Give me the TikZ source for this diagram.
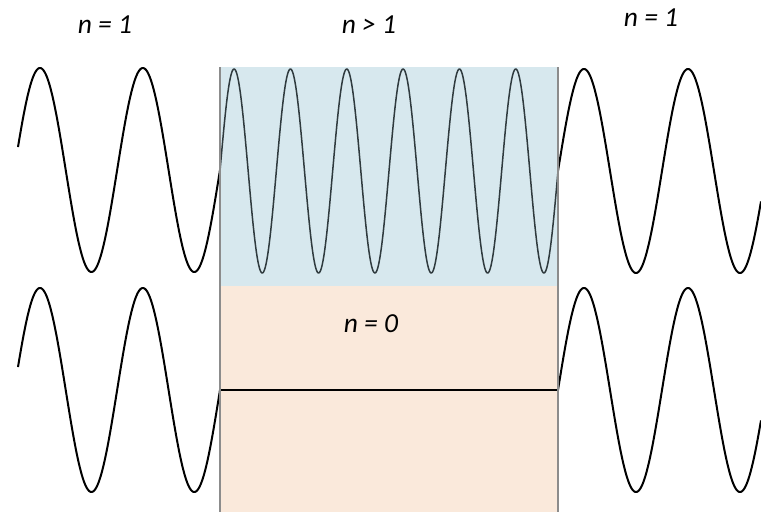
\documentclass[tikz,border=0pt]{standalone}
\usepackage{fontspec}
\setmainfont{Carlito}
\definecolor{boxblue}{HTML}{D7E8EE}
\definecolor{boxorange}{HTML}{FAE9DB}
\definecolor{edgegray}{HTML}{8C8C8C}
\definecolor{innerwave}{HTML}{2F3A3E}
\tikzset{
  wave/.style={black, line width=2pt, line join=round},
  thinwave/.style={innerwave, line width=1.5pt, line join=round},
  edgeline/.style={edgegray, line width=1.6pt},
  label/.style={font=\fontsize{27.5}{32}\selectfont\itshape, inner sep=0pt}
}
\begin{document}
\begin{tikzpicture}[x=1pt,y=-1pt]
\useasboundingbox (0,0) rectangle (761,512);
% regions
\fill[boxblue] (220,67) rectangle (558,286);
\fill[boxorange] (220,286) rectangle (558,512);
% top row waves
\draw[wave] plot[domain=18:220, samples=220, smooth] (\x, {170-102*cos(3.5*(\x-40))});
\draw[thinwave] plot[domain=220:558, samples=500, smooth] (\x, {171-102*sin(6.3905*(\x-220))});
\draw[wave] plot[domain=558:761, samples=220, smooth] (\x, {171-102*sin(3.4615*(\x-558))});
% bottom row waves
\draw[wave] plot[domain=18:220, samples=220, smooth] (\x, {390-102*cos(3.5*(\x-40))});
\coordinate (flatL) at (220,390);
\coordinate (flatR) at (558,390);
\draw[wave] (flatL) -- (flatR);
\draw[wave] plot[domain=558:761, samples=220, smooth] (\x, {390-102*sin(3.4615*(\x-558))});
% box edges
\coordinate (eLt) at (220,67);
\coordinate (eLb) at (220,512);
\coordinate (eRt) at (558,67);
\coordinate (eRb) at (558,512);
\draw[edgeline] (eLt) -- (eLb);
\draw[edgeline] (eRt) -- (eRb);
% labels
\node[label] (n1l) at (105,25) {n = 1};
\node[label] (ngt) at (369,25) {n > 1};
\node[label] (n1r) at (651,18) {n = 1};
\node[label] (n0) at (371,324) {n = 0};
\end{tikzpicture}
\end{document}
